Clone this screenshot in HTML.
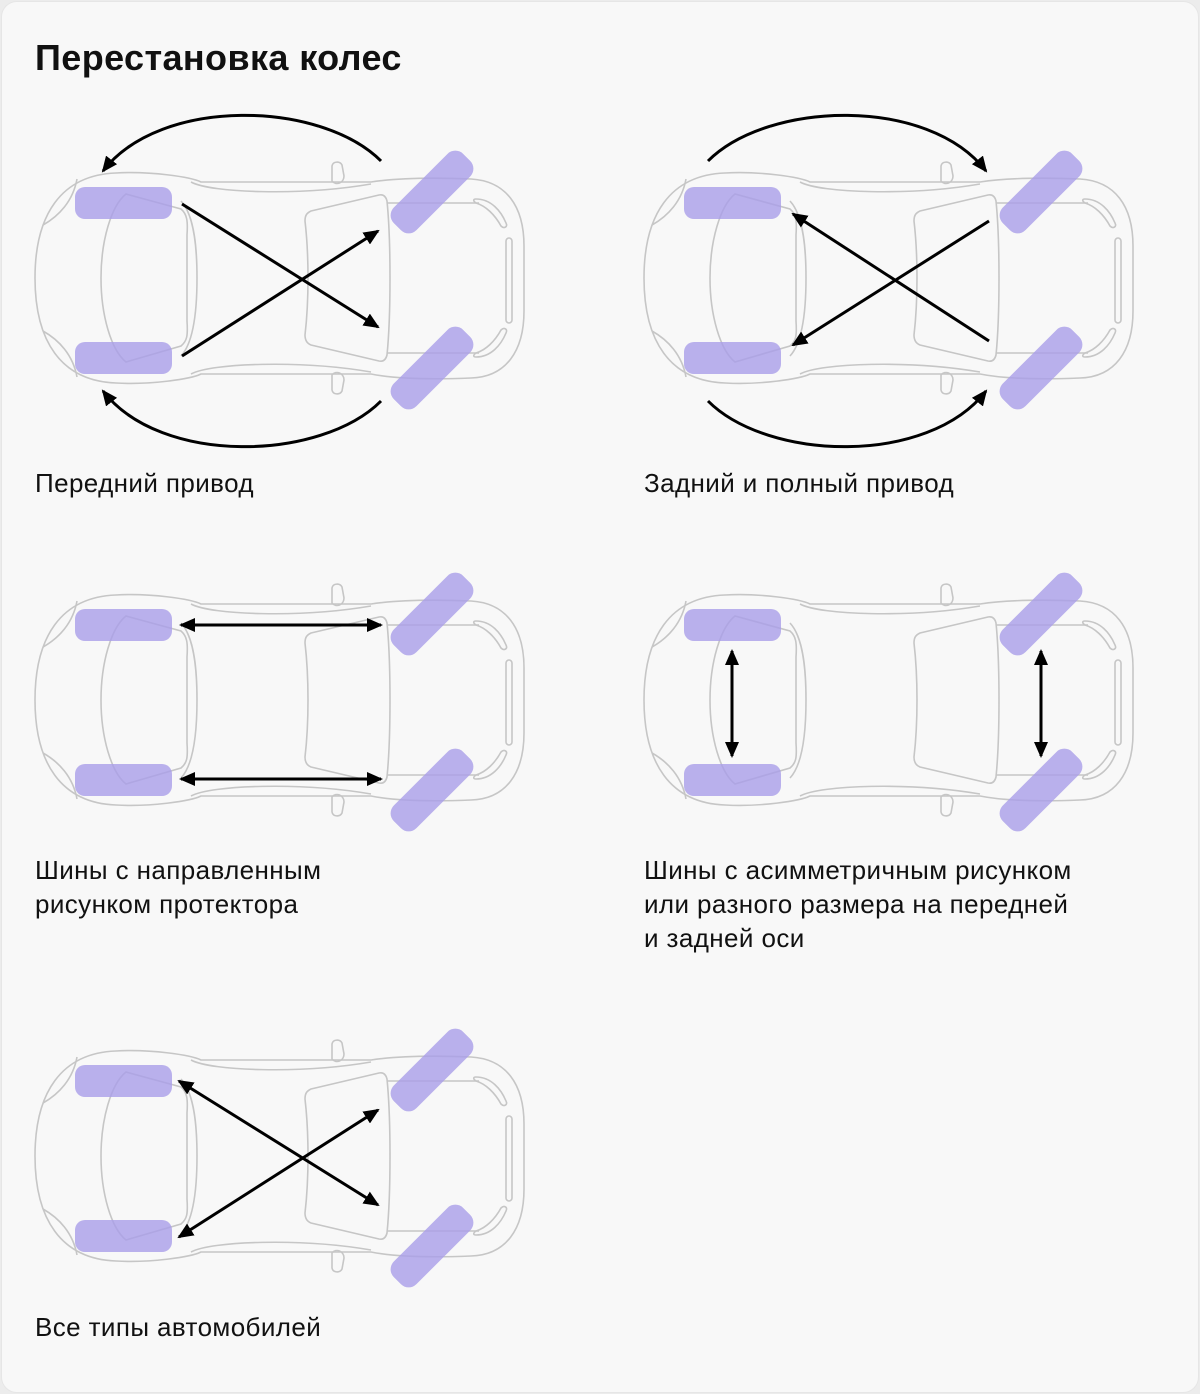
<!DOCTYPE html>
<html><head><meta charset="utf-8"><style>
html,body{margin:0;padding:0;background:#ececec;}
.card{position:absolute;left:1px;top:1px;width:1196px;height:1390px;background:#f8f8f8;border:1px solid #e6e6e6;border-radius:16px;overflow:hidden;font-family:"Liberation Sans",sans-serif;color:#111;}
h1{position:absolute;left:33px;top:35px;margin:0;font-size:36px;font-weight:bold;letter-spacing:0.4px;}
.l{position:absolute;font-size:26px;line-height:34px;letter-spacing:0.4px;}
svg{position:absolute;left:-1px;top:-1px;}
</style></head><body><div class="card">
<h1>Перестановка колес</h1>
<div class="l" style="left:33px;top:464px">Передний привод</div>
<div class="l" style="left:642px;top:464px">Задний и полный привод</div>
<div class="l" style="left:33px;top:851px">Шины с направленным<br>рисунком протектора</div>
<div class="l" style="left:642px;top:851px">Шины с асимметричным рисунком<br>или разного размера на передней<br>и задней оси</div>
<div class="l" style="left:33px;top:1308px">Все типы автомобилей</div>
<svg width="1200" height="1394" viewBox="0 0 1200 1394">
<defs>
<marker id="a" markerWidth="16" markerHeight="14" refX="14" refY="7" orient="auto-start-reverse" markerUnits="userSpaceOnUse" viewBox="0 0 16 14"><path d="M0,0 L16,7 L0,14 Z" fill="#000"/></marker>
<g id="car">
<g fill="none" stroke="#c6c6c6" stroke-width="1.6">
<path d="M115,172 C150,170 190,176 200,181 L370,181 C390,178 420,176 470,178 C505,180 523,205 523,245 L523,310 C523,350 505,376 470,377 C420,379 390,377 370,373 L200,373 C190,378 150,384 115,382 C60,380 34,340 34,277 C34,214 60,174 115,172 Z"/>
<path d="M190,181 C210,192 300,195 370,183"/>
<path d="M190,373 C210,362 300,359 370,371"/>
<path d="M125,193 C110,205 100,240 100,277 C100,314 110,349 125,361 L180,345 C186,340 187,335 186,320 L186,234 C187,220 186,213 180,208 Z"/>
<path d="M180,200 C194,215 196,250 196,277 C196,304 194,340 180,355"/>
<path d="M76,178 C72,200 58,215 42,224"/>
<path d="M76,376 C72,354 58,339 42,330"/>
<path d="M310,210 L378,194 C383,193 385,196 386,200 C390,240 390,314 386,354 C385,358 383,361 378,360 L310,344 C305,342 304,338 304,334 C308,300 308,254 304,220 C304,214 306,212 310,210 Z"/>
<path d="M386,202 L478,202"/><path d="M386,352 L478,352"/>
<path d="M475,198 C490,198 500,210 505,222 C507,226 503,228 500,225 C494,214 485,205 475,202 C472,200 472,198 475,198 Z"/>
<path d="M475,356 C490,356 500,344 505,332 C507,328 503,326 500,329 C494,340 485,349 475,352 C472,354 472,356 475,356 Z"/>
<rect x="505" y="237" width="6" height="85" rx="3"/>
<path d="M331,165 C332,160 339,160 341,164 L343,175 C343,182 335,185 331,180 Z"/>
<path d="M331,389 C332,394 339,394 341,390 L343,379 C343,372 335,369 331,374 Z"/>
</g>
<g fill="#a99ee8" fill-opacity="0.8" stroke="none">
<rect x="74" y="186" width="97" height="32" rx="10"/>
<rect x="74" y="341" width="97" height="32" rx="10"/>
<rect x="382" y="175" width="98" height="32" rx="11" transform="rotate(-45 431 191)"/>
<rect x="382" y="351" width="98" height="32" rx="11" transform="rotate(-45 431 367)"/>
</g>
</g>
</defs>
<use href="#car"/>
<use href="#car" x="609"/>
<use href="#car" y="422"/>
<use href="#car" x="609" y="422"/>
<use href="#car" y="878"/>
<g stroke="#000" stroke-width="3" fill="none">
<path d="M181,203 L377,326" marker-end="url(#a)"/>
<path d="M181,355 L377,230" marker-end="url(#a)"/>
<path d="M380,160 C320,100 160,95 102,170" marker-end="url(#a)"/>
<path d="M380,400 C320,460 160,465 102,390" marker-end="url(#a)"/>

<path d="M988,340 L792,213" marker-end="url(#a)"/>
<path d="M988,220 L792,344" marker-end="url(#a)"/>
<path d="M707,160 C767,100 927,95 985,170" marker-end="url(#a)"/>
<path d="M707,400 C767,460 927,465 985,390" marker-end="url(#a)"/>

<path d="M180,624 L380,624" marker-start="url(#a)" marker-end="url(#a)"/>
<path d="M180,778 L380,778" marker-start="url(#a)" marker-end="url(#a)"/>

<path d="M731,650 L731,755" marker-start="url(#a)" marker-end="url(#a)"/>
<path d="M1040,650 L1040,755" marker-start="url(#a)" marker-end="url(#a)"/>

<path d="M178,1080 L377,1204" marker-start="url(#a)" marker-end="url(#a)"/>
<path d="M178,1236 L377,1109" marker-start="url(#a)" marker-end="url(#a)"/>
</g>
</svg>
</div></body></html>
